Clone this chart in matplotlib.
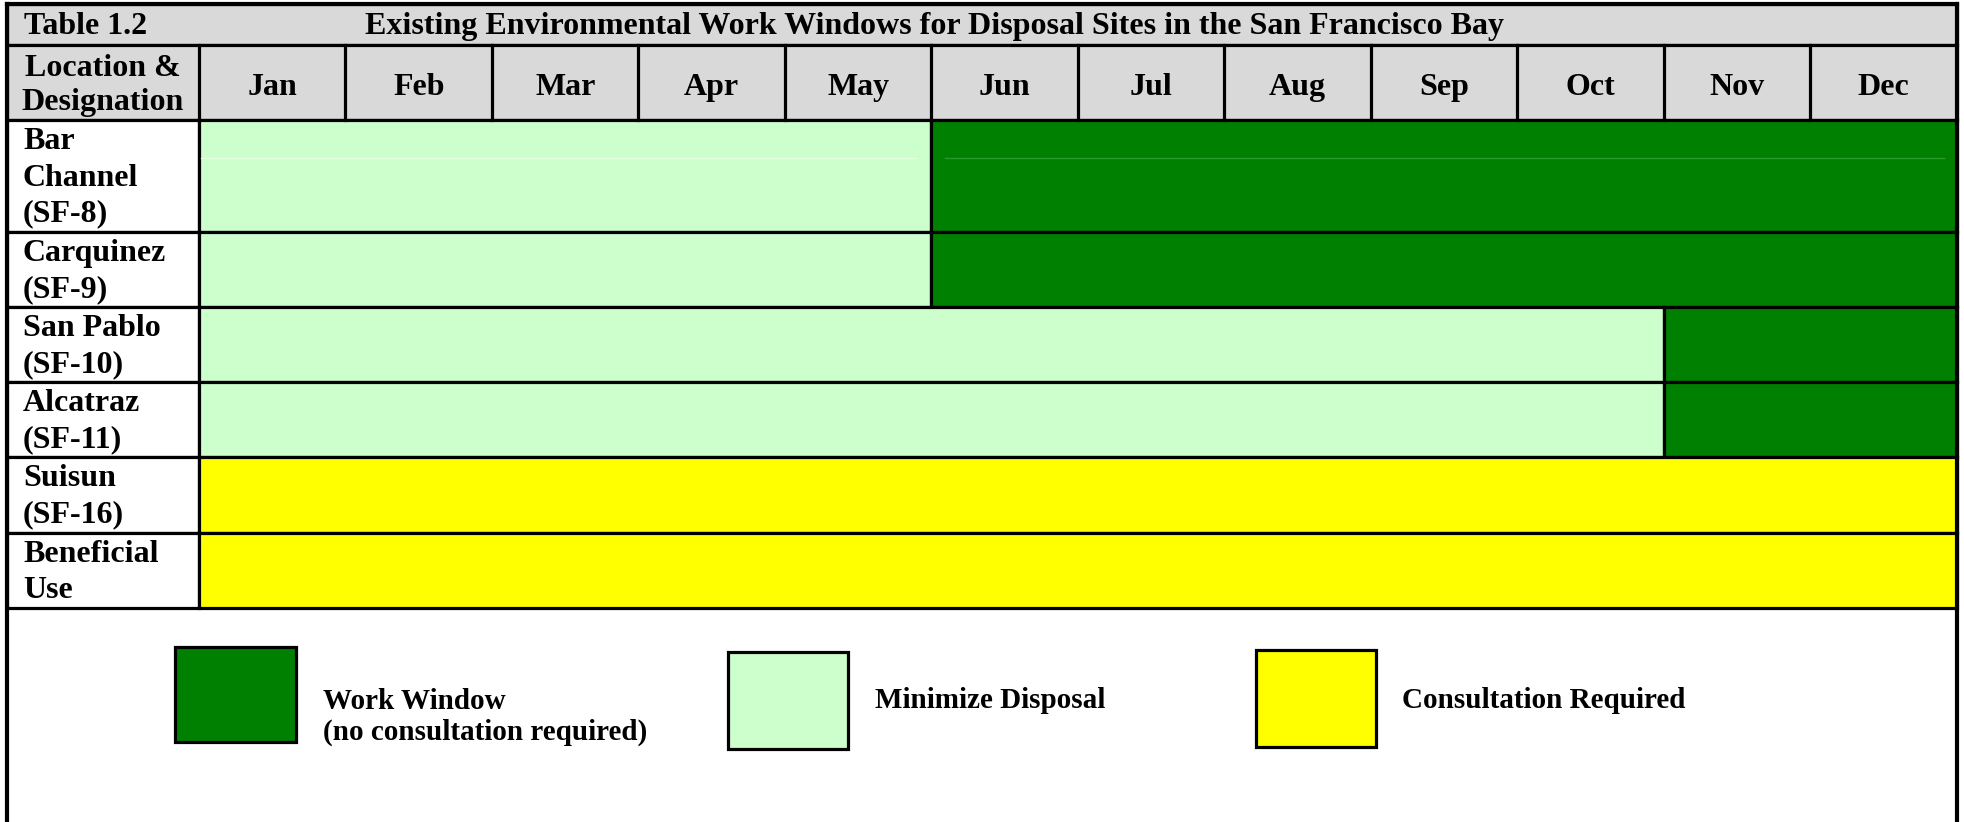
import matplotlib.pyplot as plt
from matplotlib.patches import Rectangle

# ---- data ----
table_no = "Table 1.2"
title = "Existing Environmental Work Windows for Disposal Sites in the San Francisco Bay"
months = ["Jan", "Feb", "Mar", "Apr", "May", "Jun",
          "Jul", "Aug", "Sep", "Oct", "Nov", "Dec"]
sites = ["Bar\nChannel\n(SF-8)", "Carquinez\n(SF-9)", "San Pablo\n(SF-10)",
         "Alcatraz\n(SF-11)", "Suisun\n(SF-16)", "Beneficial\nUse"]
# W = work window, M = minimize disposal, C = consultation required
status = [
    "MMMMMWWWWWWW",
    "MMMMMWWWWWWW",
    "MMMMMMMMMMWW",
    "MMMMMMMMMMWW",
    "CCCCCCCCCCCC",
    "CCCCCCCCCCCC",
]
legend_keys = ["W", "M", "C"]
legend_labels = ["Work Window\n(no consultation required)", "Minimize Disposal",
                 "Consultation Required"]

colors = {"W": "#008000", "M": "#CCFFCC", "C": "#FFFF00"}
gray = "#D9D9D9"

# ---- layout (pixels) ----
W, H = 1965, 822
left, right, top = 7, 1957, 4
title_bot, head_bot = 45, 120
label_right = 199
col_w = (right - label_right) / len(months)
row_edges = [120, 232, 307, 382, 457, 533, 608]
lw = 2.3
font = "Liberation Serif"
fs = 23

fig = plt.figure(figsize=(W / 100, H / 100), dpi=100)
ax = fig.add_axes([0, 0, 1, 1])
ax.set_xlim(0, W)
ax.set_ylim(H, 0)
ax.axis("off")

# title row + header row
ax.add_patch(Rectangle((left, top), right - left, title_bot - top, fc=gray, ec="black", lw=lw))
ax.add_patch(Rectangle((left, title_bot), right - left, head_bot - title_bot, fc=gray, ec="black", lw=lw))
ax.text(24, (top + title_bot) / 2 + 2, table_no, family=font, weight="bold", fontsize=fs, va="center")
ax.text(365, (top + title_bot) / 2 + 2, title, family=font, weight="bold", fontsize=fs, va="center")
ax.text((left + label_right) / 2, (title_bot + head_bot) / 2 + 3, "Location &\nDesignation",
        family=font, weight="bold", fontsize=fs, va="center", ha="center", linespacing=1.25)
for i, m in enumerate(months):
    x0 = label_right + i * col_w
    ax.plot([x0, x0], [title_bot, head_bot], color="black", lw=lw)
    ax.text(x0 + col_w / 2, (title_bot + head_bot) / 2 + 5, m, family=font, weight="bold",
            fontsize=fs, ha="center", va="center")

# data rows
for r, (site, st) in enumerate(zip(sites, status)):
    y0, y1 = row_edges[r], row_edges[r + 1]
    ax.add_patch(Rectangle((left, y0), label_right - left, y1 - y0, fc="white", ec="black", lw=lw))
    ax.text(23, (y0 + y1) / 2 + 2, site, family=font, weight="bold", fontsize=fs,
            va="center", ha="left", linespacing=1.32)
    # merge runs of same status
    start = 0
    for j in range(1, len(st) + 1):
        if j == len(st) or st[j] != st[start]:
            x0 = label_right + start * col_w
            ax.add_patch(Rectangle((x0, y0), (j - start) * col_w, y1 - y0,
                                   fc=colors[st[start]], ec="black", lw=lw))
            start = j

# faint scan artefact line inside first row
ax.plot([label_right + 2, label_right + 5 * col_w - 15], [158, 158], color="#E2FFE2", lw=1)
ax.plot([label_right + 5 * col_w + 14, right - 13], [158, 158], color="#2A9A2A", lw=1)

# outer side borders down to the bottom
ax.plot([left, left], [top, H], color="black", lw=3)
ax.plot([right, right], [top, H], color="black", lw=3)
ax.plot([left, right], [top, top], color="black", lw=3)

# legend
boxes = [(175, 647, 121, 95), (728, 652, 120, 97), (1256, 650, 120, 97)]
text_x = [323, 875, 1402]
for key, lab, (bx, by, bw, bh), tx in zip(legend_keys, legend_labels, boxes, text_x):
    ax.add_patch(Rectangle((bx, by), bw, bh, fc=colors[key], ec="black", lw=lw))
    ty = 700 if "\n" not in lab else 717
    ax.text(tx, ty, lab, family=font, weight="bold", fontsize=21, va="center",
            ha="left", linespacing=1.2)

fig.savefig("out.png", dpi=100)
